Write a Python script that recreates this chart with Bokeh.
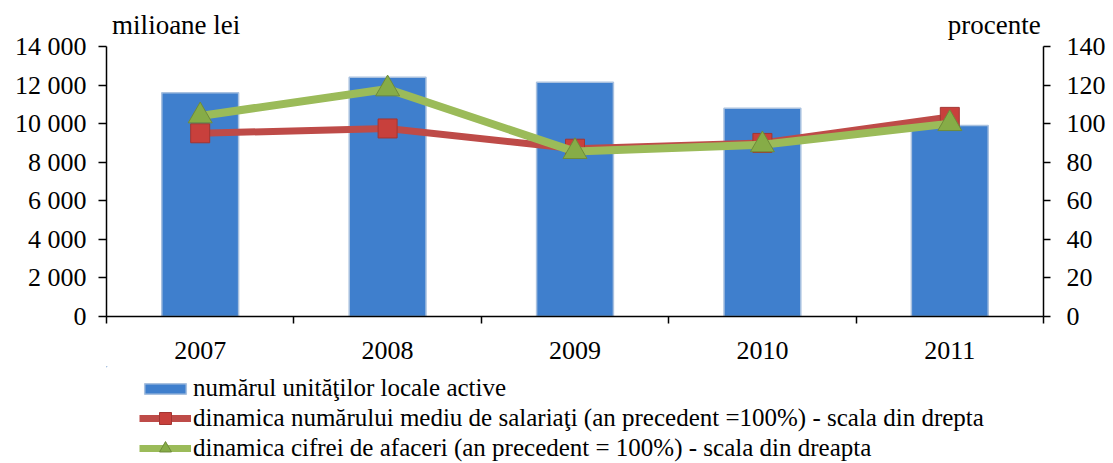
from bokeh.plotting import figure
from bokeh.layouts import column
from bokeh.models import (Range1d, LinearAxis, FixedTicker, CustomJSTickFormatter,
                          Legend, LegendItem, Label, ColumnDataSource)
from bokeh.embed import file_html
from bokeh.resources import INLINE

# ---- data ----
years = ["2007", "2008", "2009", "2010", "2011"]
units = [11600, 12400, 12150, 10800, 9900]          # numărul unităţilor locale active (left)
employees = [95, 97.5, 87, 90, 103.5]                # dinamica nr. mediu de salariaţi (right)
turnover = [104, 118, 85.5, 89, 100]                 # dinamica cifrei de afaceri (right)
left_ticks = [0, 2000, 4000, 6000, 8000, 10000, 12000, 14000]
right_ticks = [0, 20, 40, 60, 80, 100, 120, 140]

label_units = "numărul unităţilor locale active"
label_emp = "dinamica numărului mediu de salariaţi (an precedent =100%) - scala din drepta"
label_turn = "dinamica cifrei de afaceri (an precedent = 100%) - scala din dreapta"

FONT = "Liberation Serif"
BAR_FILL, BAR_LINE = "#3F7FCD", "#A9C1DF"
RED_LINE, RED_FILL, RED_EDGE = "#BE4B48", "#C8403C", "#A33532"
GRN_LINE, GRN_FILL, GRN_EDGE = "#9BBB59", "#86AC47", "#6E8B3A"

LEFT_MAX, RIGHT_MAX = 14000, 140
HEAD = 1.1333  # extra room above the axes for the unit captions (fraction of axis max)

n = len(years)
xs = [i + 0.5 for i in range(n)]
src = ColumnDataSource(dict(x=xs, year=years, units=units, emp=employees, turn=turnover))

p = figure(width=1113, height=366, output_backend="svg", toolbar_location=None,
           x_range=Range1d(0, n), y_range=Range1d(0, LEFT_MAX * HEAD),
           min_border_left=106, min_border_right=70, min_border_top=10, min_border_bottom=50)
p.outline_line_color = None
p.xgrid.visible = False
p.ygrid.visible = False
p.extra_y_ranges = {"pct": Range1d(0, RIGHT_MAX * HEAD)}

# bars
p.vbar(x="x", top="units", width=0.41, bottom=0, source=src,
       fill_color=BAR_FILL, line_color=BAR_LINE, line_width=1.5)

# lines
p.line(x="x", y="emp", source=src, y_range_name="pct", line_color=RED_LINE, line_width=7)
p.scatter(x="x", y="emp", source=src, y_range_name="pct", marker="square",
          size=19, fill_color=RED_FILL, line_color=RED_EDGE, line_width=1)
p.line(x="x", y="turn", source=src, y_range_name="pct", line_color=GRN_LINE, line_width=8)
p.scatter(x="x", y="turn", source=src, y_range_name="pct", marker="triangle",
          size=24, fill_color=GRN_FILL, line_color=GRN_EDGE, line_width=1)

# x axis
xa = p.xaxis[0]
xa.ticker = FixedTicker(ticks=xs, minor_ticks=list(range(n + 1)))
xa.formatter = CustomJSTickFormatter(args=dict(years=years),
                                     code="return years[Math.floor(tick)];")
xa.major_tick_out = 0
xa.major_tick_in = 0
xa.minor_tick_out = 7
xa.minor_tick_in = 0
xa.minor_tick_line_color = "black"
xa.minor_tick_line_width = 1.5
xa.axis_line_color = "black"
xa.axis_line_width = 1.5
xa.major_label_standoff = 18
xa.major_label_text_font = FONT
xa.major_label_text_font_size = "26px"
xa.major_label_text_color = "black"

# left y axis
ya = p.yaxis[0]
ya.bounds = (0, LEFT_MAX)
ya.ticker = FixedTicker(ticks=left_ticks)
ya.formatter = CustomJSTickFormatter(code="""
if (tick >= 1000) { const t = Math.floor(tick/1000); const r = String(tick % 1000).padStart(3,'0'); return t + ' ' + r; }
return String(tick);""")
ya.major_tick_out = 8
ya.major_tick_in = 0
ya.minor_tick_line_color = None
ya.axis_line_color = "black"
ya.axis_line_width = 1.5
ya.major_tick_line_width = 1.5
ya.major_label_standoff = 12
ya.major_label_text_font = FONT
ya.major_label_text_font_size = "26px"
ya.major_label_text_color = "black"

# right y axis
ra = LinearAxis(y_range_name="pct", ticker=FixedTicker(ticks=right_ticks), bounds=(0, RIGHT_MAX))
ra.major_tick_out = 7
ra.major_tick_in = 0
ra.minor_tick_line_color = None
ra.axis_line_color = "black"
ra.axis_line_width = 1.5
ra.major_tick_line_width = 1.5
ra.major_label_standoff = 16
ra.major_label_text_font = FONT
ra.major_label_text_font_size = "26px"
ra.major_label_text_color = "black"
p.add_layout(ra, "right")

# unit captions above the axes (inside the frame's head room)
cap_y = LEFT_MAX * 1.078
p.add_layout(Label(x=0.03, y=cap_y, text="milioane lei", text_align="left",
                   text_baseline="middle", text_font=FONT, text_font_size="27px",
                   text_color="black"))
p.add_layout(Label(x=4.985, y=cap_y, text="procente", text_align="right",
                   text_baseline="middle", text_font=FONT, text_font_size="27px",
                   text_color="black"))

# legend figure (below the chart); renderers reuse the data but sit outside its ranges
q = figure(width=1113, height=97, output_backend="svg", toolbar_location=None,
           x_range=Range1d(100, 101), y_range=Range1d(-10, -9),
           min_border_left=106, min_border_right=70, min_border_top=0, min_border_bottom=0)
q.outline_line_color = None
q.axis.visible = False
q.xgrid.visible = False
q.ygrid.visible = False
lb = q.vbar(x="x", top="units", width=0.41, source=src,
            fill_color=BAR_FILL, line_color=BAR_LINE, line_width=1.5)
lr1 = q.line(x="x", y="emp", source=src, line_color=RED_LINE, line_width=7)
lr2 = q.scatter(x="x", y="emp", source=src, marker="square", size=17,
                fill_color=RED_FILL, line_color=RED_EDGE, line_width=1)
lg1 = q.line(x="x", y="turn", source=src, line_color=GRN_LINE, line_width=7)
lg2 = q.scatter(x="x", y="turn", source=src, marker="triangle", size=21,
                fill_color=GRN_FILL, line_color=GRN_EDGE, line_width=1)


def style(lg, gh):
    lg.border_line_color = None
    lg.background_fill_alpha = 0
    lg.margin = 0
    lg.padding = 0
    lg.spacing = 0
    lg.glyph_width = 52
    lg.glyph_height = gh
    lg.label_standoff = 2
    lg.label_height = 30
    lg.label_text_font = FONT
    lg.label_text_font_size = "25px"
    lg.label_text_color = "black"


leg_bar = Legend(items=[LegendItem(label=label_units, renderers=[lb])],
                 location=(33, 60), orientation="vertical")
style(leg_bar, 13)
leg_lines = Legend(items=[
    LegendItem(label=label_emp, renderers=[lr1, lr2]),
    LegendItem(label=label_turn, renderers=[lg1, lg2]),
], location=(33, 0), orientation="vertical")
style(leg_lines, 30)
q.add_layout(leg_bar, "center")
q.add_layout(leg_lines, "center")

layout = column(p, q, spacing=0)
open("out.html", "w").write(file_html(layout, INLINE))
